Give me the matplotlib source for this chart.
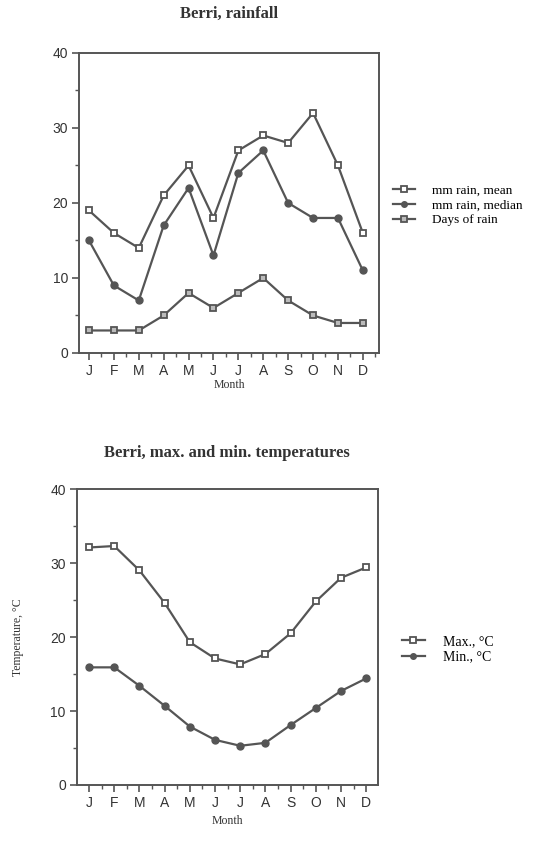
import matplotlib
matplotlib.use("Agg")
import matplotlib.pyplot as plt
from matplotlib.ticker import MultipleLocator

# data
months = ['J', 'F', 'M', 'A', 'M', 'J', 'J', 'A', 'S', 'O', 'N', 'D']
rain_mean = [19, 16, 14, 21, 25, 18, 27, 29, 28, 32, 25, 16]
rain_median = [15, 9, 7, 17, 22, 13, 24, 27, 20, 18, 18, 11]
rain_days = [3, 3, 3, 5, 8, 6, 8, 10, 7, 5, 4, 4]
t_max = [32.1, 32.3, 29.0, 24.6, 19.3, 17.1, 16.3, 17.7, 20.5, 24.8, 28.0, 29.4]
t_min = [15.9, 15.9, 13.4, 10.7, 7.9, 6.1, 5.3, 5.7, 8.1, 10.4, 12.7, 14.4]

col = '#555555'
txt = '#333333'
serif = 'Liberation Serif'
sans = 'Liberation Sans'
x = list(range(len(months)))

fig = plt.figure(figsize=(5.53, 8.42), dpi=100)
ax1 = fig.add_axes([0.1429, 0.5808, 0.5425, 0.3563])
ax2 = fig.add_axes([0.1392, 0.0677, 0.5443, 0.3515])


def style(ax, xl):
    ax.set_xlim(xl)
    ax.set_ylim(0, 40)
    ax.set_xticks(x)
    ax.set_xticklabels(months, fontfamily=sans, fontsize=10, color=txt)
    ax.xaxis.set_minor_locator(MultipleLocator(0.5))
    ax.set_yticks([0, 10, 20, 30, 40])
    ax.yaxis.set_minor_locator(MultipleLocator(5))
    for lab in ax.get_yticklabels():
        lab.set_fontfamily(sans)
        lab.set_fontsize(10)
        lab.set_color(txt)
    ax.tick_params(which='major', direction='out', length=5, width=1.2, color=col, pad=3)
    ax.tick_params(which='minor', direction='out', length=3, width=1, color=col)
    for s in ax.spines.values():
        s.set_color(col)
        s.set_linewidth(1.4)


# rainfall
h1, = ax1.plot(x, rain_mean, color=col, lw=1.6, marker='s', ms=5,
               mfc='white', mec=col, mew=1.3, label='mm rain, mean')
h2, = ax1.plot(x, rain_median, color=col, lw=1.6, marker='o', ms=5,
               mfc=col, mec=col, label='mm rain, median')
h3, = ax1.plot(x, rain_days, color=col, lw=1.6, marker='s', ms=5,
               mfc='#bbbbbb', mec=col, mew=1.3, label='Days of rain')
style(ax1, (-0.4, 11.65))
fig.text(0.414, 0.983, 'Berri, rainfall', ha='center', va='center',
         fontfamily=serif, fontweight='bold', fontsize=12, color=txt)
fig.text(0.414, 0.543, 'Month', ha='center', va='center',
         fontfamily=serif, fontsize=8.5, color=txt)
fig.legend(handles=[h1, h2, h3], loc='center left', bbox_to_anchor=(0.69, 0.756),
           frameon=False, prop={'family': serif, 'size': 9.5}, labelspacing=0.2,
           handlelength=1.6, handletextpad=1.3, markerscale=0.8)

# temperatures
h4, = ax2.plot(x, t_max, color=col, lw=1.6, marker='s', ms=5,
               mfc='white', mec=col, mew=1.3, label='Max., °C')
h5, = ax2.plot(x, t_min, color=col, lw=1.6, marker='o', ms=5,
               mfc=col, mec=col, label='Min., °C')
style(ax2, (-0.48, 11.47))
fig.text(0.411, 0.462, 'Berri, max. and min. temperatures', ha='center', va='center',
         fontfamily=serif, fontweight='bold', fontsize=12, color=txt)
fig.text(0.411, 0.025, 'Month', ha='center', va='center',
         fontfamily=serif, fontsize=8.5, color=txt)
fig.text(0.0325, 0.243, 'Temperature, °C', ha='center', va='center', rotation=90,
         fontfamily=serif, fontsize=8.5, color=txt)
fig.legend(handles=[h4, h5], loc='center left', bbox_to_anchor=(0.705, 0.229),
           frameon=False, prop={'family': serif, 'size': 10}, labelspacing=0.2,
           handlelength=1.6, handletextpad=1.3, markerscale=0.8)

fig.savefig('out.png', dpi=100, facecolor='white')
